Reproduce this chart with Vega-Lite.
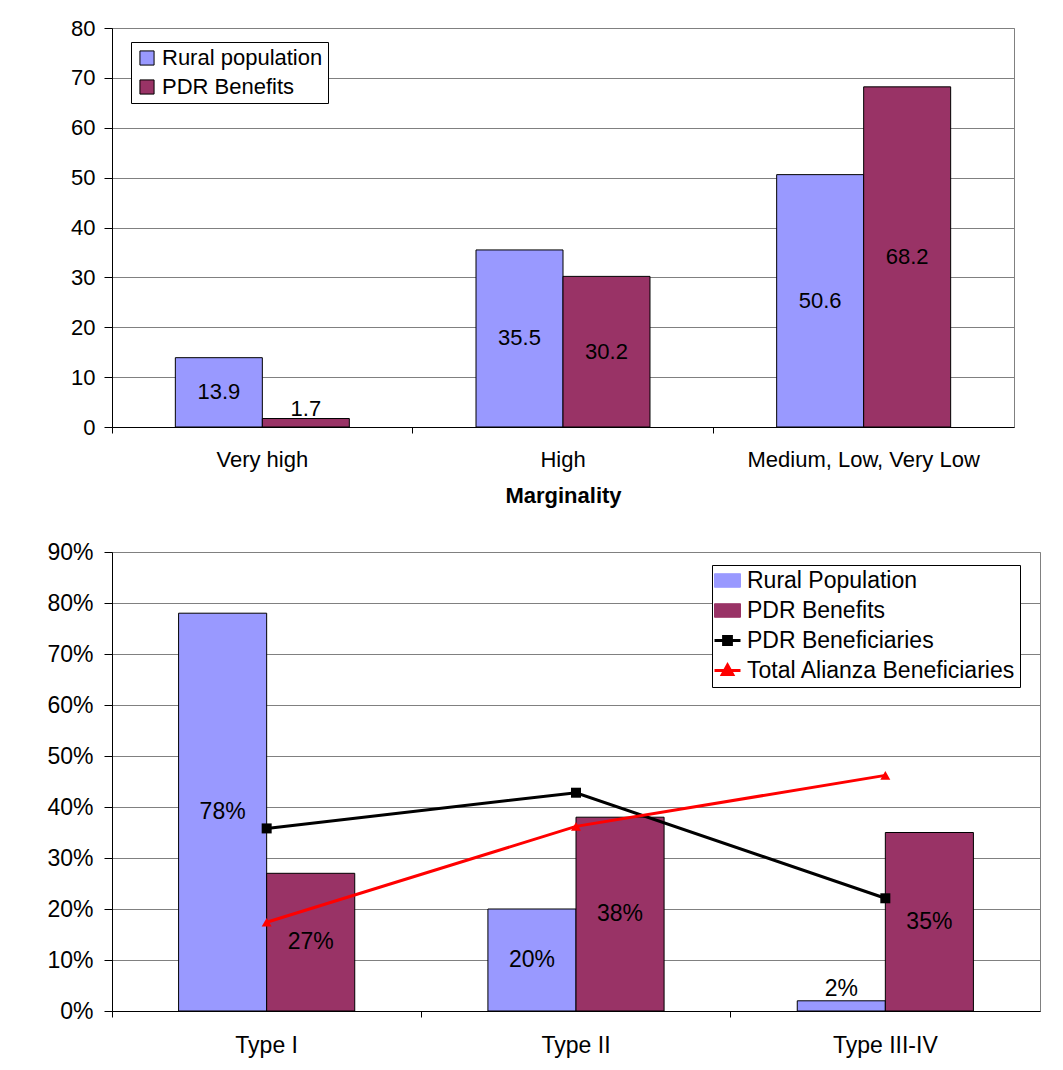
{
  "$schema": "https://vega.github.io/schema/vega-lite/v6.json",
  "padding": {"left": 46, "top": 16, "right": 0, "bottom": 0},
  "spacing": 33,
  "background": "#ffffff",
  "resolve": {
    "scale": {"color": "independent", "xOffset": "independent", "shape": "independent", "x": "independent", "y": "independent"},
    "legend": {"color": "independent"}
  },
  "config": {
    "font": "Liberation Sans",
    "view": {"stroke": "#808080", "strokeWidth": 1},
    "axis": {
      "labelFont": "Liberation Sans", "labelColor": "#000000", "labelLimit": 0,
      "domainColor": "#000000", "tickColor": "#000000", "gridColor": "#808080", "gridOpacity": 1,
      "tickSize": 8, "titleFont": "Liberation Sans", "titleColor": "#000000"
    },
    "legend": {"labelFont": "Liberation Sans", "labelColor": "#000000", "labelLimit": 0}
  },
  "datasets": {
    "top": [
      {"marginality": "Very high", "series": "Rural population", "value": 13.9},
      {"marginality": "Very high", "series": "PDR Benefits", "value": 1.7},
      {"marginality": "High", "series": "Rural population", "value": 35.5},
      {"marginality": "High", "series": "PDR Benefits", "value": 30.2},
      {"marginality": "Medium, Low, Very Low", "series": "Rural population", "value": 50.6},
      {"marginality": "Medium, Low, Very Low", "series": "PDR Benefits", "value": 68.2}
    ],
    "bars2": [
      {"type": "Type I", "series": "Rural Population", "value": 0.78},
      {"type": "Type I", "series": "PDR Benefits", "value": 0.27},
      {"type": "Type II", "series": "Rural Population", "value": 0.20},
      {"type": "Type II", "series": "PDR Benefits", "value": 0.38},
      {"type": "Type III-IV", "series": "Rural Population", "value": 0.02},
      {"type": "Type III-IV", "series": "PDR Benefits", "value": 0.35}
    ],
    "lines2": [
      {"type": "Type I", "series": "PDR Beneficiaries", "value": 0.358},
      {"type": "Type II", "series": "PDR Beneficiaries", "value": 0.428},
      {"type": "Type III-IV", "series": "PDR Beneficiaries", "value": 0.221},
      {"type": "Type I", "series": "Total Alianza Beneficiaries", "value": 0.174},
      {"type": "Type II", "series": "Total Alianza Beneficiaries", "value": 0.362},
      {"type": "Type III-IV", "series": "Total Alianza Beneficiaries", "value": 0.462}
    ]
  },
  "vconcat": [
    {
      "width": 902,
      "height": 399,
      "data": {"name": "top"},
      "transform": [{"calculate": "max(datum.value / 2, 3.6)", "as": "labelPos"}],
      "encoding": {
        "x": {
          "field": "marginality", "type": "nominal",
          "sort": ["Very high", "High", "Medium, Low, Very Low"],
          "scale": {"paddingInner": 0, "paddingOuter": 0},
          "axis": {"title": "Marginality", "labelAngle": 0, "bandPosition": 0, "tickSize": 6, "labelPadding": 16, "labelFontSize": 22, "titleFontSize": 22, "titleFontWeight": "bold", "titlePadding": 15, "grid": false}
        },
        "xOffset": {
          "field": "series", "type": "nominal",
          "sort": ["Rural population", "PDR Benefits"],
          "scale": {"domain": ["Rural population", "PDR Benefits"], "paddingInner": 0, "paddingOuter": 0.728}
        }
      },
      "layer": [
        {
          "mark": {"type": "bar", "stroke": "#000000", "strokeWidth": 1, "opacity": 1},
          "encoding": {
            "y": {
              "field": "value", "type": "quantitative",
              "scale": {"domain": [0, 80], "nice": false},
              "axis": {"title": null, "values": [0, 10, 20, 30, 40, 50, 60, 70, 80], "grid": true, "labelPadding": 9, "labelFontSize": 22}
            },
            "color": {
              "field": "series", "type": "nominal",
              "scale": {"domain": ["Rural population", "PDR Benefits"], "range": ["#9999FF", "#993366"]},
              "legend": {
                "title": null, "orient": "none", "legendX": 19, "legendY": 14, "labelFontSize": 22,
                "symbolType": "square", "symbolSize": 200, "symbolStrokeColor": "#000000", "symbolStrokeWidth": 1,
                "symbolOpacity": 1,
                "strokeColor": "#000000", "fillColor": "#ffffff", "padding": 5, "rowPadding": 7, "labelOffset": 4
              }
            }
          }
        },
        {
          "mark": {"type": "text", "fontSize": 22, "color": "#000000", "font": "Liberation Sans"},
          "encoding": {
            "y": {"field": "labelPos", "type": "quantitative"},
            "text": {"field": "value", "type": "quantitative", "format": ".1f"}
          }
        }
      ]
    },
    {
      "width": 928,
      "height": 459,
      "encoding": {
        "x": {
          "field": "type", "type": "nominal",
          "sort": ["Type I", "Type II", "Type III-IV"],
          "scale": {"paddingInner": 0, "paddingOuter": 0},
          "axis": {"title": null, "labelAngle": 0, "bandPosition": 0, "tickSize": 6, "labelPadding": 17, "labelFontSize": 23, "grid": false}
        }
      },
      "layer": [
        {
          "data": {"name": "bars2"},
          "mark": {"type": "bar", "stroke": "#000000", "strokeWidth": 1, "opacity": 1},
          "encoding": {
            "xOffset": {
              "field": "series", "type": "nominal",
              "sort": ["Rural Population", "PDR Benefits"],
              "scale": {"domain": ["Rural Population", "PDR Benefits"], "paddingInner": 0, "paddingOuter": 0.756}
            },
            "y": {
              "field": "value", "type": "quantitative",
              "scale": {"domain": [0, 0.9], "nice": false},
              "axis": {"title": null, "values": [0, 0.1, 0.2, 0.3, 0.4, 0.5, 0.6, 0.7, 0.8, 0.9], "format": ".0%", "grid": true, "labelPadding": 11, "labelFontSize": 23}
            },
            "color": {
              "field": "series", "type": "nominal",
              "scale": {"domain": ["Rural Population", "PDR Benefits", "PDR Beneficiaries", "Total Alianza Beneficiaries"], "range": ["#9999FF", "#993366", "#000000", "#FF0000"]},
              "legend": {
                "title": null, "orient": "none", "legendX": 600, "legendY": 13, "labelFontSize": 23,
                "symbolSize": 676, "symbolOpacity": 1,
                "symbolType": {"expr": "datum.value === 'PDR Beneficiaries' ? 'M-1,0H1M-0.3,-0.3H0.3V0.3H-0.3Z' : (datum.value === 'Total Alianza Beneficiaries' ? 'M-1,0H1M0,-0.42L0.4,0.3H-0.4Z' : 'M-1,-0.52H1V0.52H-1Z')"},
                "symbolStrokeColor": {"expr": "datum.value === 'Total Alianza Beneficiaries' ? '#FF0000' : '#000000'"},
                "symbolStrokeWidth": {"expr": "(datum.value === 'PDR Beneficiaries' || datum.value === 'Total Alianza Beneficiaries') ? 3 : 1"},
                "strokeColor": "#000000", "fillColor": "#ffffff", "padding": 4, "rowPadding": 6, "labelOffset": 8
              }
            }
          }
        },
        {
          "data": {"name": "bars2"},
          "transform": [{"calculate": "max(datum.value / 2, 0.043)", "as": "labelPos"}],
          "mark": {"type": "text", "fontSize": 23, "color": "#000000", "font": "Liberation Sans"},
          "encoding": {
            "xOffset": {"field": "series", "type": "nominal", "sort": ["Rural Population", "PDR Benefits"]},
            "y": {"field": "labelPos", "type": "quantitative"},
            "text": {"field": "value", "type": "quantitative", "format": ".0%"}
          }
        },
        {
          "data": {"name": "lines2"},
          "mark": {"type": "line", "strokeWidth": 3, "opacity": 1},
          "encoding": {
            "y": {"field": "value", "type": "quantitative"},
            "color": {"field": "series", "type": "nominal"}
          }
        },
        {
          "data": {"name": "lines2"},
          "mark": {"type": "point", "filled": true, "size": 100, "opacity": 1},
          "encoding": {
            "y": {"field": "value", "type": "quantitative"},
            "color": {"field": "series", "type": "nominal"},
            "shape": {
              "field": "series", "type": "nominal",
              "scale": {"domain": ["PDR Beneficiaries", "Total Alianza Beneficiaries"], "range": ["square", "triangle-up"]},
              "legend": null
            }
          }
        }
      ]
    }
  ]
}
